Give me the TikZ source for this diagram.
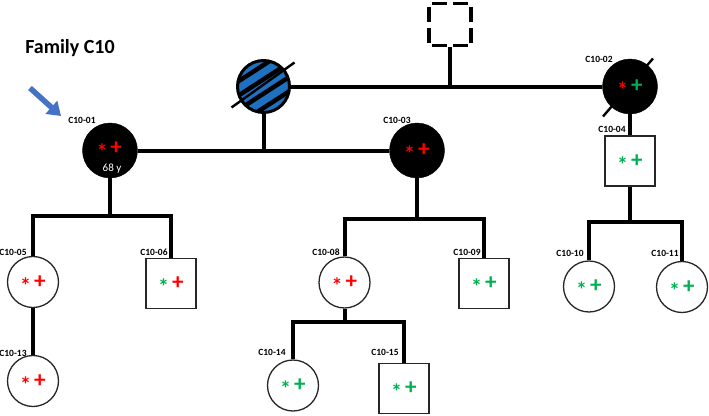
\documentclass[tikz,border=0pt]{standalone}
\usepackage{fontspec}
\setmainfont{Carlito}
\usepackage{xcolor}
\usepackage{tikz}
\usetikzlibrary{arrows.meta, positioning, calc}

\definecolor{arrowblue}{RGB}{68,114,196}
\definecolor{hatchblue}{RGB}{30,112,192}
\definecolor{markred}{RGB}{255,0,0}
\definecolor{markgreen}{RGB}{0,176,80}

\begin{document}
\begin{tikzpicture}[
      x=1pt, y=-1pt,
      female/.style={circle, draw=black!85, line width=1.3pt, minimum size=51pt, inner sep=0pt},
      male/.style={rectangle, draw=black!85, line width=1.3pt, minimum size=50pt, inner sep=0pt},
      affected/.style={circle, draw=black, fill=black, minimum size=55pt, inner sep=0pt},
      tag/.style={font=\bfseries\fontsize{9.5}{10}\selectfont, inner sep=0pt},
      ast/.style={font=\bfseries\fontsize{22}{22}\selectfont, inner sep=0pt},
      plus/.style={font=\bfseries\fontsize{23}{23}\selectfont, inner sep=0pt},
      link/.style={line width=4pt},
      strike/.style={line width=2.4pt}
    ]
    \useasboundingbox (0,0) rectangle (709,415);

    % Title and proband arrow
    \node[font=\bfseries\fontsize{20}{24}\selectfont] (title) at (70,48) {Family C10};
    \coordinate (ptail) at (30,88);
    \coordinate (ptip) at (61,116);
    \draw[arrowblue, line width=5.5pt, -{Triangle[length=13pt,width=17pt]}] (ptail) -- (ptip);

    % First generation
    \node[rectangle, draw, line width=3.2pt, dash pattern=on 15pt off 6pt, dash phase=18pt, minimum size=42pt] (unk) at (450,24.5) {};
    \node[circle, draw, line width=3pt, minimum size=52pt, inner sep=0pt,
      path picture={
        \fill[hatchblue] (path picture bounding box.south west) rectangle (path picture bounding box.north east);
        \foreach \d in {-18,-6,6,18}
          \draw[line width=4.5pt] ($(path picture bounding box.center)+(\d*0.545-33.6,\d*0.839+21.8)$)
            -- ($(path picture bounding box.center)+(\d*0.545+33.6,\d*0.839-21.8)$);
      }] (h1) at (263.5,86.5) {};
    \draw[strike] ($(h1)+(-32,21)$) -- ($(h1)+(31,-24)$);
    \node[affected] (c02) at (630,86.5) {};
    \draw[strike] ($(c02)+(-27,30)$) -- ($(c02)+(23,-28)$);

    % Second generation
    \node[affected] (c01) at (110,150.5) {};
    \node[affected] (c03) at (417,150.5) {};
    \node[male] (c04) at (630,161) {};
    \node[white, font=\fontsize{11}{13}\selectfont, inner sep=0pt] (age) at (112,168.5) {68 y};

    % Third generation
    \node[female] (c05) at (33,282) {};
    \node[male] (c06) at (171,283.5) {};
    \node[female] (c08) at (344.5,282.5) {};
    \node[male] (c09) at (484,283.5) {};
    \node[female] (c10) at (589,286.5) {};
    \node[female] (c11) at (682,287) {};

    % Fourth generation
    \node[female] (c13) at (33,381) {};
    \node[female] (c14) at (293,385.5) {};
    \node[male] (c15) at (404,388.5) {};

    % Labels
    \node[tag] (l01) at (82,120) {C10-01};
    \node[tag] (l02) at (599,59) {C10-02};
    \node[tag] (l03) at (397,120) {C10-03};
    \node[tag] (l04) at (612,129) {C10-04};
    \node[tag] (l05) at (13,252) {C10-05};
    \node[tag] (l06) at (154,252) {C10-06};
    \node[tag] (l08) at (326,252) {C10-08};
    \node[tag] (l09) at (467,252) {C10-09};
    \node[tag] (l10) at (570,253) {C10-10};
    \node[tag] (l11) at (665,253) {C10-11};
    \node[tag] (l13) at (13,353) {C10-13};
    \node[tag] (l14) at (272,352) {C10-14};
    \node[tag] (l15) at (385,352) {C10-15};

    % Markers
    \node[ast, text=markred] (c01-a) at ($(c01)+(-8,1.5)$) {*};
    \node[plus, text=markred] (c01-p) at ($(c01)+(6,-2.5)$) {+};
    \foreach \n/\a/\b in {c02/markred/markgreen, c03/markred/markred,
        c04/markgreen/markgreen, c05/markred/markred, c06/markgreen/markred,
        c08/markred/markred, c09/markgreen/markgreen, c10/markgreen/markgreen,
        c11/markgreen/markgreen, c13/markred/markred, c14/markgreen/markgreen,
        c15/markgreen/markgreen} {
      \node[ast, text=\a] (\n-a) at ($(\n)+(-7.5,3.5)$) {*};
      \node[plus, text=\b] (\n-p) at ($(\n)+(6.8,0)$) {+};
    }

    % Couples
    \coordinate (m1) at (unk.south |- h1.east);
    \draw[link] (h1.east) -- (c02.west);
    \draw[link] (unk.south) -- (m1);
    \coordinate (m2) at (h1.south |- c01.east);
    \draw[link] (c01.east) -- (c03.west);
    \draw[link] (h1.south) -- (m2);
    \draw[link] (c02.south) -- (c04.north);

    % Sibships
    \coordinate (s1) at (110,216);
    \draw[link] (c01.south) -- (s1);
    \draw[link] (c05.north) |- (s1) -| (c06.north);
    \draw[link] (c05.south) -- (c13.north);
    \coordinate (s3) at (417,219);
    \draw[link] (c03.south) -- (s3);
    \draw[link] (c08.north) |- (s3) -| (c09.north);
    \coordinate (s8) at (344.5,322);
    \draw[link] (c08.south) -- (s8);
    \draw[link] (c14.north) |- (s8) -| (c15.north);
    \coordinate (s4) at (630,222);
    \draw[link] (c04.south) -- (s4);
    \draw[link] (c10.north) |- (s4) -| (c11.north);
  \end{tikzpicture}
\end{document}
